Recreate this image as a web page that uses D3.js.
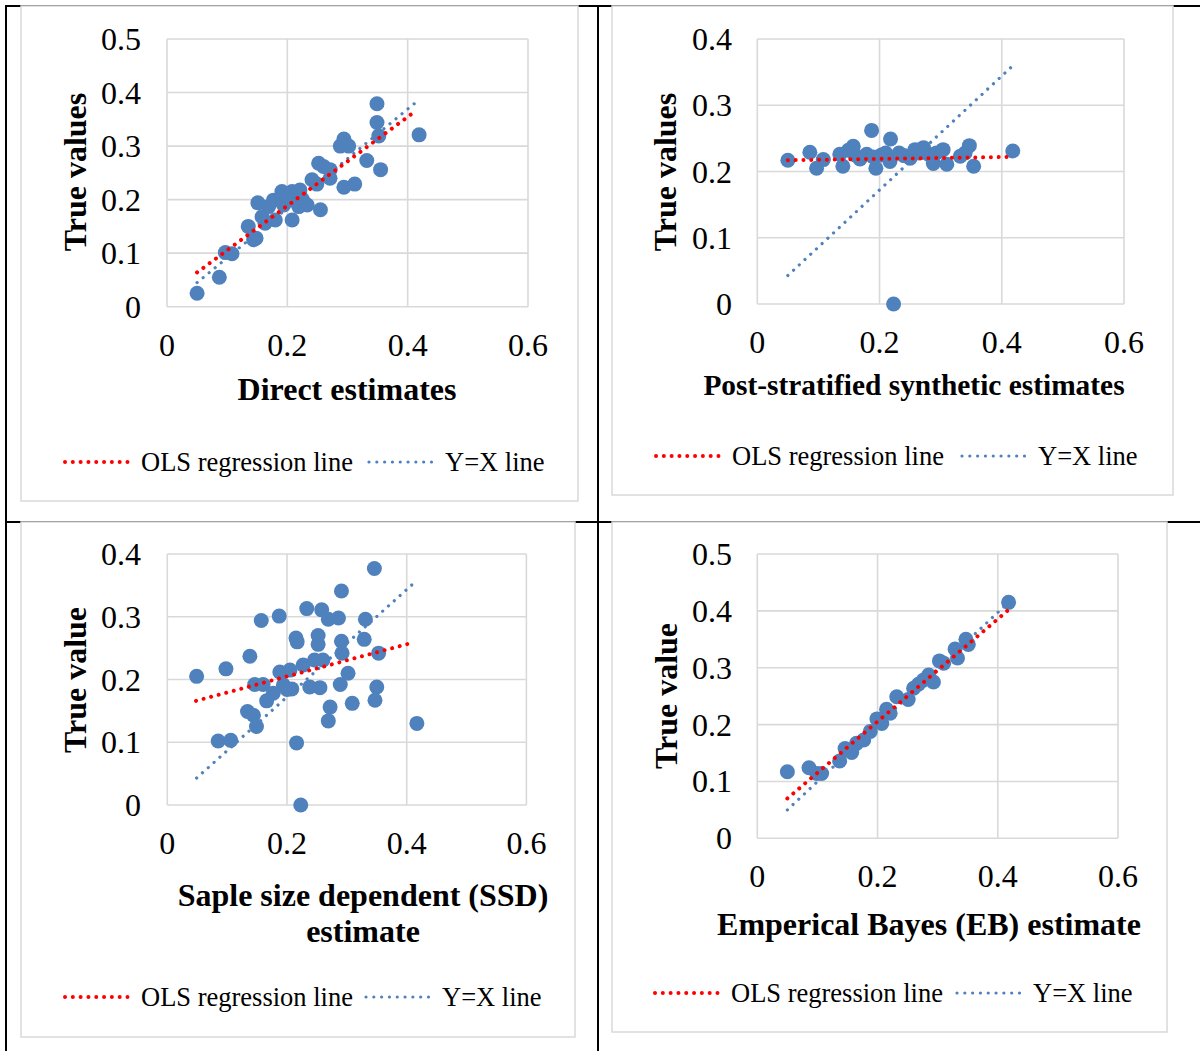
<!DOCTYPE html>
<html>
<head>
<meta charset="utf-8">
<script src="https://cdn.jsdelivr.net/npm/d3@7"></script>
<style>
  body { margin: 0; background: #fff; }
  svg { display: block; }
  text { font-family: "Liberation Serif", "Times New Roman", serif; fill: #000; }
</style>
</head>
<body>
<div id="chart"></div>
<script>
// ---- data ----
const directPts = [
  [0.050,0.025],[0.087,0.055],[0.097,0.101],[0.108,0.099],[0.135,0.150],[0.144,0.125],
  [0.148,0.128],[0.151,0.194],[0.158,0.168],[0.163,0.156],[0.169,0.187],[0.177,0.199],
  [0.180,0.162],[0.191,0.215],[0.194,0.190],[0.200,0.205],[0.208,0.162],[0.208,0.215],
  [0.210,0.199],[0.219,0.187],[0.221,0.218],[0.225,0.200],[0.233,0.190],[0.241,0.237],
  [0.249,0.229],[0.252,0.268],[0.255,0.181],[0.260,0.262],[0.271,0.256],[0.271,0.240],
  [0.288,0.300],[0.294,0.313],[0.294,0.223],[0.302,0.300],[0.312,0.229],[0.332,0.273],
  [0.349,0.379],[0.349,0.344],[0.352,0.319],[0.355,0.256],[0.419,0.321]
];
const synthPts = [
  [0.050,0.217],[0.086,0.229],[0.097,0.205],[0.108,0.218],[0.135,0.226],[0.140,0.208],
  [0.149,0.232],[0.157,0.238],[0.160,0.225],[0.168,0.219],[0.179,0.226],[0.187,0.262],
  [0.190,0.222],[0.194,0.205],[0.203,0.225],[0.210,0.228],[0.217,0.215],[0.218,0.249],
  [0.223,0.000],[0.232,0.228],[0.240,0.224],[0.250,0.220],[0.258,0.233],[0.265,0.228],
  [0.272,0.236],[0.280,0.226],[0.288,0.212],[0.293,0.228],[0.304,0.233],[0.310,0.211],
  [0.332,0.223],[0.340,0.228],[0.347,0.239],[0.354,0.208],[0.418,0.231]
];
const ssdPts = [
  [0.049,0.205],[0.085,0.102],[0.106,0.103],[0.098,0.217],[0.138,0.237],[0.134,0.149],
  [0.144,0.143],[0.149,0.125],[0.157,0.294],[0.146,0.192],[0.160,0.192],[0.166,0.166],
  [0.177,0.178],[0.187,0.301],[0.188,0.212],[0.205,0.215],[0.194,0.191],[0.208,0.185],
  [0.200,0.184],[0.216,0.099],[0.215,0.266],[0.217,0.260],[0.223,0.000],[0.227,0.223],
  [0.233,0.313],[0.238,0.188],[0.252,0.270],[0.252,0.256],[0.246,0.231],[0.255,0.187],
  [0.260,0.231],[0.258,0.311],[0.269,0.296],[0.272,0.156],[0.269,0.134],[0.286,0.298],
  [0.291,0.261],[0.292,0.242],[0.289,0.192],[0.291,0.341],[0.302,0.210],[0.309,0.162],
  [0.329,0.264],[0.331,0.296],[0.346,0.377],[0.353,0.242],[0.350,0.188],[0.347,0.167],
  [0.417,0.130]
];
const ebPts = [
  [0.050,0.117],[0.086,0.124],[0.099,0.114],[0.107,0.114],[0.137,0.136],[0.146,0.158],
  [0.157,0.151],[0.165,0.167],[0.177,0.173],[0.188,0.188],[0.199,0.210],[0.207,0.202],
  [0.215,0.227],[0.221,0.220],[0.232,0.249],[0.251,0.244],[0.260,0.264],[0.268,0.271],
  [0.276,0.278],[0.285,0.287],[0.293,0.275],[0.303,0.312],[0.310,0.308],[0.329,0.333],
  [0.333,0.317],[0.347,0.350],[0.351,0.341],[0.418,0.415]
];

// trendline end points [x, y]
const directOls = [[0.050,0.064],[0.415,0.367]];
const directYx  = [[0.050,0.045],[0.413,0.381]];
const synthOls  = [[0.050,0.217],[0.416,0.222]];
const synthYx   = [[0.050,0.043],[0.416,0.358]];
const ssdOls    = [[0.048,0.166],[0.411,0.259]];
const ssdYx     = [[0.049,0.043],[0.409,0.351]];
const ebOls     = [[0.050,0.070],[0.417,0.401]];
const ebYx      = [[0.050,0.050],[0.412,0.409]];

const xTicks = [0, 0.2, 0.4, 0.6];
const yTicksHalf = [0, 0.1, 0.2, 0.3, 0.4, 0.5];
const yTicksFour = [0, 0.1, 0.2, 0.3, 0.4];
const legendLabels = ["OLS regression line", "Y=X line"];

// ---- layout ----
const W = 1200, H = 1051;
const blue = "#4f81bd", red = "#ff0000", grid = "#d9d9d9";

const svg = d3.select("#chart").append("svg")
  .attr("width", W).attr("height", H);

// table lines
svg.append("rect").attr("x", 6).attr("y", 6).attr("width", 1210).attr("height", 1060)
  .attr("fill", "none").attr("stroke", "#000").attr("stroke-width", 2);
svg.append("line").attr("x1", 598).attr("x2", 598).attr("y1", 6).attr("y2", H)
  .attr("stroke", "#000").attr("stroke-width", 2);
svg.append("line").attr("x1", 6).attr("x2", W).attr("y1", 522).attr("y2", 522)
  .attr("stroke", "#000").attr("stroke-width", 2);

function addText(g, x, y, str, size, opts = {}) {
  const t = g.append("text")
    .attr("transform", `translate(${x},${y})` + (opts.rotate ? " rotate(-90)" : ""))
    .attr("text-anchor", opts.anchor || "middle")
    .attr("dominant-baseline", "central")
    .attr("font-size", size + "px")
    .text(str);
  if (opts.bold) t.attr("font-weight", "bold");
  return t;
}

function drawPanel(cfg) {
  const g = svg.append("g");

  // chart area box
  g.append("rect")
    .attr("x", cfg.box[0]).attr("y", cfg.box[1])
    .attr("width", cfg.box[2] - cfg.box[0]).attr("height", cfg.box[3] - cfg.box[1])
    .attr("fill", "#fff").attr("stroke", grid).attr("stroke-width", 1.5);

  const x = d3.scaleLinear().domain([0, 0.6]).range([cfg.plot[0], cfg.plot[1]]);
  const y = d3.scaleLinear().domain([0, cfg.yTicks[cfg.yTicks.length - 1]]).range([cfg.plot[3], cfg.plot[2]]);

  // grid
  g.selectAll(".vg").data(xTicks).enter().append("line")
    .attr("x1", d => x(d)).attr("x2", d => x(d))
    .attr("y1", y.range()[0]).attr("y2", y.range()[1])
    .attr("stroke", grid).attr("stroke-width", 1.6);
  g.selectAll(".hg").data(cfg.yTicks).enter().append("line")
    .attr("x1", x.range()[0]).attr("x2", x.range()[1])
    .attr("y1", d => y(d)).attr("y2", d => y(d))
    .attr("stroke", grid).attr("stroke-width", 1.6);

  // tick labels
  cfg.yTicks.forEach(d => addText(g, cfg.yLabelX, y(d), d3.format("")(d), 32, {anchor: "end"}));
  xTicks.forEach(d => addText(g, x(d), cfg.xLabelY, d3.format("")(d), 32));

  // points
  g.selectAll("circle").data(cfg.pts).enter().append("circle")
    .attr("cx", d => x(d[0])).attr("cy", d => y(d[1]))
    .attr("r", 7.5).attr("fill", blue);

  // trend lines
  const line = d3.line().x(d => x(d[0])).y(d => y(d[1]));
  g.append("path").attr("d", line(cfg.yx)).attr("fill", "none")
    .attr("stroke", blue).attr("stroke-width", 3.2)
    .attr("stroke-linecap", "round").attr("stroke-dasharray", "0.01 7.8");
  g.append("path").attr("d", line(cfg.ols)).attr("fill", "none")
    .attr("stroke", red).attr("stroke-width", 4)
    .attr("stroke-linecap", "round").attr("stroke-dasharray", "0.01 7.8");

  // axis titles
  addText(g, cfg.yTitle[0], cfg.yTitle[1], cfg.yTitleText, 32, {bold: true, rotate: true});
  cfg.xTitleText.forEach((s, i) =>
    addText(g, cfg.xTitle[0], cfg.xTitle[1] + i * 36, s, cfg.xTitleSize, {bold: true}));

  // legend
  const ly = cfg.legend[0];
  const items = [
    {x0: cfg.legend[1], color: red, w: 4, label: legendLabels[0]},
    {x0: cfg.legend[2], color: blue, w: 3.2, label: legendLabels[1]}
  ];
  items.forEach(it => {
    g.append("line")
      .attr("x1", it.x0 + 2).attr("x2", it.x0 + 68).attr("y1", ly).attr("y2", ly)
      .attr("stroke", it.color).attr("stroke-width", it.w)
      .attr("stroke-linecap", "round").attr("stroke-dasharray", "0.01 7.8");
    addText(g, it.x0 + 78, ly, it.label, 26.5, {anchor: "start"});
  });
}

drawPanel({
  box: [21, 6, 578, 501], plot: [167, 528, 39, 306.7], yTicks: yTicksHalf,
  yLabelX: 141, xLabelY: 345, pts: directPts, ols: directOls, yx: directYx,
  yTitle: [75, 172], yTitleText: "True values",
  xTitle: [347, 389], xTitleText: ["Direct estimates"], xTitleSize: 32,
  legend: [462, 63, 367]
});
drawPanel({
  box: [612, 6, 1173, 495], plot: [757.3, 1124, 39, 304], yTicks: yTicksFour,
  yLabelX: 732, xLabelY: 342, pts: synthPts, ols: synthOls, yx: synthYx,
  yTitle: [665, 172], yTitleText: "True values",
  xTitle: [914, 385], xTitleText: ["Post-stratified synthetic estimates"], xTitleSize: 29.4,
  legend: [456, 654, 960]
});
drawPanel({
  box: [21, 522, 575, 1037], plot: [167.3, 526.4, 554, 805], yTicks: yTicksFour,
  yLabelX: 141, xLabelY: 843, pts: ssdPts, ols: ssdOls, yx: ssdYx,
  yTitle: [75, 680], yTitleText: "True value",
  xTitle: [363, 895], xTitleText: ["Saple size dependent (SSD)", "estimate"], xTitleSize: 32,
  legend: [997, 63, 364]
});
drawPanel({
  box: [612, 522, 1167, 1032], plot: [757.3, 1118, 554, 838.3], yTicks: yTicksHalf,
  yLabelX: 732, xLabelY: 876, pts: ebPts, ols: ebOls, yx: ebYx,
  yTitle: [666, 696], yTitleText: "True value",
  xTitle: [929, 924], xTitleText: ["Emperical Bayes (EB) estimate"], xTitleSize: 32,
  legend: [993, 653, 955]
});
</script>
</body>
</html>
